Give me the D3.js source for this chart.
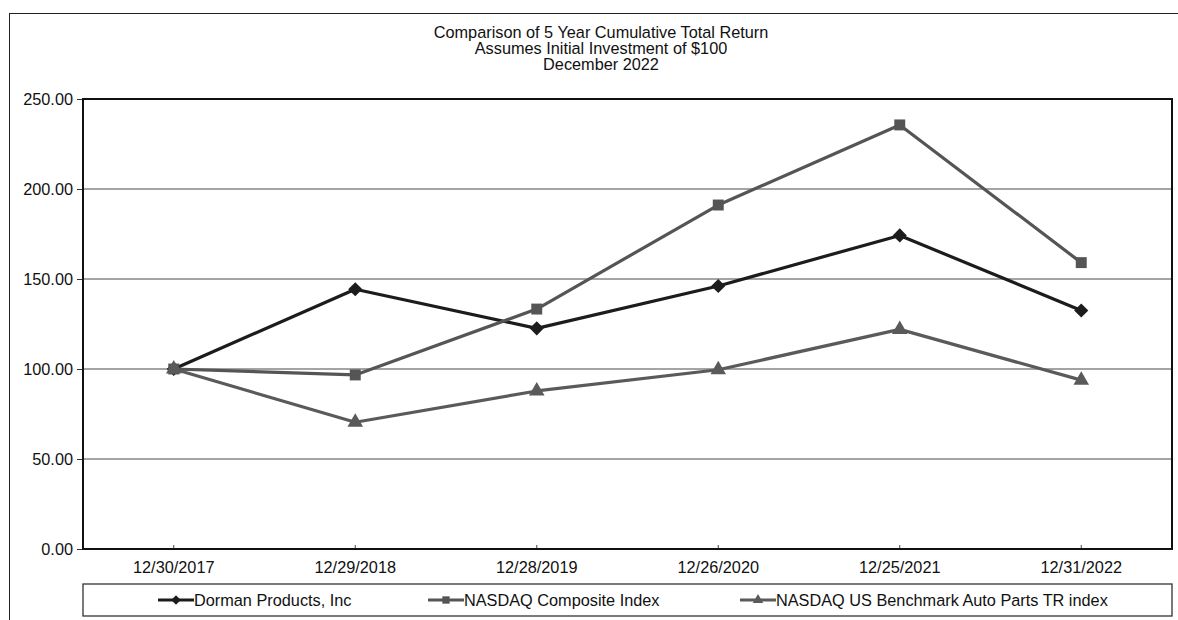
<!DOCTYPE html>
<html>
<head>
<meta charset="utf-8">
<script src="https://cdn.jsdelivr.net/npm/d3@7"></script>
<style>
  body { margin: 0; background: #fff; }
  svg text { font-family: "Liberation Sans", Arial, sans-serif; fill: #111; }
</style>
</head>
<body>
<svg id="svg" width="1178" height="620"></svg>
<script>
// data
const dates = ['12/30/2017', '12/29/2018', '12/28/2019', '12/26/2020', '12/25/2021', '12/31/2022'];
const dorman = [100, 144.3, 122.6, 146.1, 174.2, 132.5];
const nasdaqComposite = [100, 96.7, 133.3, 191.1, 235.6, 159.1];
const autoParts = [100, 70.4, 87.8, 99.6, 122.0, 93.8];
const yTicks = [0, 50, 100, 150, 200, 250];
const titleLines = ['Comparison of 5 Year Cumulative Total Return', 'Assumes Initial Investment of $100', 'December 2022'];

// diamond = square turned 45deg, wider than d3's own diamond
const diamond = {
  draw(ctx, size) {
    const r = Math.sqrt(size / 2);
    ctx.moveTo(0, -r); ctx.lineTo(r, 0); ctx.lineTo(0, r); ctx.lineTo(-r, 0); ctx.closePath();
  }
};

const series = [
  {name: 'Dorman Products, Inc', values: dorman, color: '#1c1c1c', symbol: diamond, size: 100},
  {name: 'NASDAQ Composite Index', values: nasdaqComposite, color: '#555', symbol: d3.symbolSquare, size: 120},
  {name: 'NASDAQ US Benchmark Auto Parts TR index', values: autoParts, color: '#5a5a5a', symbol: d3.symbolTriangle, size: 105}
];

const plot = {left: 83, right: 1172, top: 99, bottom: 549};
const fontSize = '16.3px';

const svg = d3.select('#svg');

// outer frame
svg.append('rect')
  .attr('x', 9.5).attr('y', 13.5)
  .attr('width', 1178).attr('height', 620)
  .attr('fill', 'none').attr('stroke', '#222').attr('stroke-width', 1);

// title
svg.append('g').selectAll('text')
  .data(titleLines)
  .enter()
  .append('text')
  .attr('x', 601)
  .attr('y', (d, i) => 38 + i * 16)
  .attr('text-anchor', 'middle')
  .style('font-size', fontSize)
  .text(d => d);

const x = d3.scaleBand().domain(dates).range([plot.left, plot.right]);
const y = d3.scaleLinear().domain([0, 250]).range([plot.bottom, plot.top]);
const cx = d => x(d) + x.bandwidth() / 2;

// gridlines
svg.append('g').selectAll('line')
  .data(yTicks.filter(t => t > 0 && t < 250))
  .enter()
  .append('line')
  .attr('x1', plot.left).attr('x2', plot.right)
  .attr('y1', d => y(d)).attr('y2', d => y(d))
  .attr('stroke', '#4a4a4a').attr('stroke-width', 1.2);

// y axis
const yAxis = svg.append('g')
  .attr('transform', `translate(${plot.left},0)`)
  .call(d3.axisLeft(y).tickValues(yTicks).tickFormat(d3.format('.2f')).tickSize(6).tickPadding(4));
yAxis.select('.domain').remove();
yAxis.selectAll('line').attr('stroke', '#333');
yAxis.selectAll('text').style('font-size', fontSize).attr('fill', '#111');

// x axis, ticks point inward
const xAxis = svg.append('g')
  .attr('transform', `translate(0,${plot.bottom})`)
  .call(d3.axisBottom(x).tickSizeInner(-4).tickSizeOuter(0).tickPadding(12));
xAxis.select('.domain').remove();
xAxis.selectAll('line').attr('stroke', '#444');
xAxis.selectAll('text').style('font-size', fontSize).attr('fill', '#111');

// plot frame
svg.append('rect')
  .attr('x', plot.left).attr('y', plot.top)
  .attr('width', plot.right - plot.left).attr('height', plot.bottom - plot.top)
  .attr('fill', 'none').attr('stroke', '#111').attr('stroke-width', 2);

// lines and markers
const line = d3.line().x((d, i) => cx(dates[i])).y(d => y(d));

const sg = svg.append('g').selectAll('g')
  .data(series)
  .enter()
  .append('g');

sg.append('path')
  .attr('d', d => line(d.values))
  .attr('fill', 'none')
  .attr('stroke', d => d.color)
  .attr('stroke-width', 3.2)
  .attr('stroke-linejoin', 'round');

sg.each(function (s) {
  d3.select(this).selectAll('path.marker')
    .data(s.values)
    .enter()
    .append('path')
    .attr('class', 'marker')
    .attr('transform', (d, i) => `translate(${cx(dates[i])},${y(d)})`)
    .attr('d', d3.symbol().type(s.symbol).size(s.size))
    .attr('fill', s.color);
});

// legend
const legend = {left: 83, top: 584, height: 32};
svg.append('rect')
  .attr('x', legend.left).attr('y', legend.top)
  .attr('width', plot.right - plot.left).attr('height', legend.height)
  .attr('fill', '#fff').attr('stroke', '#333').attr('stroke-width', 1.3);

const legendX = [158, 428, 740];
const lg = svg.append('g').selectAll('g')
  .data(series)
  .enter()
  .append('g')
  .attr('transform', (d, i) => `translate(${legendX[i]},${legend.top + legend.height / 2})`);

lg.append('line')
  .attr('x1', 0).attr('x2', 36)
  .attr('stroke', d => d.color).attr('stroke-width', 3.2);
lg.append('path')
  .attr('transform', 'translate(18,0)')
  .attr('d', d => d3.symbol().type(d.symbol).size(d.size * 0.45)())
  .attr('fill', d => d.color);
lg.append('text')
  .attr('x', 36).attr('y', 5.5)
  .style('font-size', fontSize)
  .text(d => d.name);
</script>
</body>
</html>
